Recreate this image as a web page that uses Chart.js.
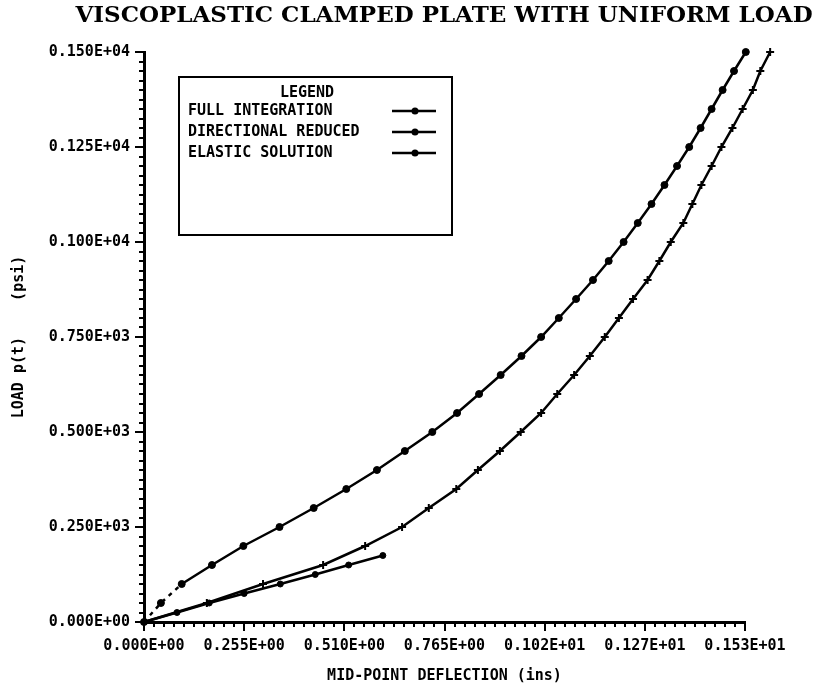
<!DOCTYPE html>
<html>
<head>
<meta charset="utf-8">
<script src="https://cdn.jsdelivr.net/npm/chart.js@4.4.1/dist/chart.umd.min.js"></script>
<style>
  html, body { margin: 0; padding: 0; background: #fff; }
</style>
</head>
<body>
<canvas id="plateChart" width="813" height="690"></canvas>
<script>
const chartTitle = "VISCOPLASTIC CLAMPED PLATE WITH UNIFORM LOAD";
const xTitle = "MID-POINT DEFLECTION (ins)";
const yTitle = "LOAD p(t)    (psi)";
const seriesNames = ["FULL INTEGRATION", "DIRECTIONAL REDUCED", "ELASTIC SOLUTION"];
const xTicks = [0, 0.255, 0.51, 0.765, 1.02, 1.275, 1.53];
const yTicks = [0, 250, 500, 750, 1000, 1250, 1500];

// load levels (psi) used by both viscoplastic runs
const loadSteps = [0, 50, 100, 150, 200, 250, 300, 350, 400, 450, 500, 550, 600, 650, 700, 750,
  800, 850, 900, 950, 1000, 1050, 1100, 1150, 1200, 1250, 1300, 1350, 1400, 1450, 1500];
// mid-point deflection (ins)
const fullDefl = [0, 0.043, 0.096, 0.173, 0.253, 0.345, 0.432, 0.515, 0.593, 0.664, 0.734, 0.797,
  0.853, 0.908, 0.961, 1.011, 1.056, 1.100, 1.143, 1.183, 1.221, 1.257, 1.292, 1.325, 1.357, 1.388,
  1.417, 1.445, 1.473, 1.502, 1.532];
const reducedDefl = [0, 0.160, 0.303, 0.456, 0.563, 0.657, 0.725, 0.795, 0.850, 0.906, 0.959, 1.011,
  1.052, 1.095, 1.135, 1.173, 1.209, 1.245, 1.282, 1.312, 1.341, 1.373, 1.396, 1.419, 1.445, 1.470,
  1.498, 1.524, 1.550, 1.569, 1.594];
const elasticLoad = [0, 25, 50, 75, 100, 125, 150, 175];
const elasticDefl = [0, 0.084, 0.166, 0.255, 0.347, 0.436, 0.521, 0.608];

const tickFont = { family: "'DejaVu Sans Mono', 'Liberation Mono', monospace", size: 15, weight: "bold" };

// plotter style numbers, e.g. 0.255E+00
function fortranE(v) {
  if (v === 0) return "0.000E+00";
  const e = Math.floor(Math.log10(Math.abs(v))) + 1;
  const m = Math.floor((v / Math.pow(10, e)) * 1000 + 1e-6) / 1000;
  return m.toFixed(3) + "E" + (e < 0 ? "-" : "+") + String(Math.abs(e)).padStart(2, "0");
}

const toPoints = (xs, ys) => xs.map((x, i) => ({ x: x, y: ys[i] }));

const plateDecor = {
  id: "plateDecor",
  afterDatasetsDraw(chart) {
    // markers past the end of the x axis
    const c = chart.ctx;
    const area = chart.chartArea;
    chart.data.datasets.forEach((ds, i) => {
      chart.getDatasetMeta(i).data.forEach(el => {
        if (el.x > area.right + 2) el.draw(c);
      });
    });
  },
  afterDraw(chart) {
    const c = chart.ctx;
    const area = chart.chartArea;
    const xs = chart.scales.x;
    const ys = chart.scales.y;
    c.save();
    c.strokeStyle = "#000";
    c.fillStyle = "#000";

    // minor ticks
    c.lineWidth = 2;
    c.beginPath();
    for (let i = 0; i <= 60; i++) {
      if (i % 10 === 0) continue;
      const px = Math.round(xs.getPixelForValue(i * 0.0255));
      c.moveTo(px, area.bottom);
      c.lineTo(px, area.bottom + 5);
      const py = Math.round(ys.getPixelForValue(i * 25));
      c.moveTo(area.left, py);
      c.lineTo(area.left - 5, py);
    }
    c.stroke();

    // title
    c.font = "bold 23px 'DejaVu Serif', serif";
    c.textAlign = "center";
    c.textBaseline = "middle";
    c.fillText(chartTitle, 444, 16);

    // legend box
    const lx = area.left + 35;
    const ly = area.top + 25;
    c.lineWidth = 2;
    c.strokeRect(lx, ly, 273, 158);
    c.font = "bold 15px 'DejaVu Sans Mono', monospace";
    c.fillText("LEGEND", lx + 128, ly + 16);
    c.textAlign = "left";
    seriesNames.forEach((name, i) => {
      const ry = ly + 34 + i * 21;
      c.fillText(name, lx + 9, ry);
      c.lineWidth = 2.5;
      c.beginPath();
      c.moveTo(lx + 213, ry);
      c.lineTo(lx + 257, ry);
      c.stroke();
      c.beginPath();
      c.arc(lx + 236, ry, 3.5, 0, Math.PI * 2);
      c.fill();
    });
    c.restore();
  }
};

const lineStyle = {
  borderColor: "#000",
  backgroundColor: "#000",
  pointBackgroundColor: "#000",
  pointBorderColor: "#000",
  borderWidth: 2.5,
  tension: 0,
  clip: false,
  fill: false,
};

const ctx = document.getElementById("plateChart").getContext("2d");
const data = {
  datasets: [
    {
      ...lineStyle,
      label: seriesNames[0],
      data: toPoints(fullDefl, loadSteps),
      pointStyle: "circle",
      pointRadius: 3.5,
      pointBorderWidth: 1,
      segment: { borderDash: s => (s.p0DataIndex < 2 ? [4, 5] : undefined) },
    },
    {
      ...lineStyle,
      label: seriesNames[1],
      data: toPoints(reducedDefl, loadSteps),
      pointStyle: "cross",
      pointRadius: 4,
      pointBorderWidth: 2,
    },
    {
      ...lineStyle,
      label: seriesNames[2],
      data: toPoints(elasticDefl, elasticLoad),
      pointStyle: "circle",
      pointRadius: 3,
      pointBorderWidth: 1,
    },
  ],
};

const config = {
  type: "line",
  data: data,
  options: {
    responsive: false,
    animation: false,
    layout: { padding: { top: 52, right: 68, left: 0, bottom: 0 } },
    plugins: {
      legend: { display: false },
      tooltip: { enabled: false },
    },
    scales: {
      x: {
        type: "linear",
        bounds: "data",
        afterDataLimits: s => { s.min = xTicks[0]; s.max = xTicks[xTicks.length - 1]; },
        afterBuildTicks: s => { s.ticks = xTicks.map(v => ({ value: v })); },
        afterFit: s => { s.height = 68; },
        ticks: { callback: v => fortranE(v), font: tickFont, color: "#000", padding: 6, maxRotation: 0, autoSkip: false },
        grid: { drawOnChartArea: false, color: "#000", lineWidth: 2, tickLength: 9 },
        border: { color: "#000", width: 3 },
        title: { display: true, text: xTitle, font: tickFont, color: "#000", padding: { top: 0, bottom: 5 } },
      },
      y: {
        type: "linear",
        bounds: "data",
        afterDataLimits: s => { s.min = yTicks[0]; s.max = yTicks[yTicks.length - 1]; },
        afterBuildTicks: s => { s.ticks = yTicks.map(v => ({ value: v })); },
        afterFit: s => { s.width = 144; },
        ticks: { callback: v => fortranE(v), font: tickFont, color: "#000", padding: 5, autoSkip: false },
        grid: { drawOnChartArea: false, color: "#000", lineWidth: 2, tickLength: 9 },
        border: { color: "#000", width: 3 },
        title: { display: true, text: yTitle, font: tickFont, color: "#000", padding: { top: 10, bottom: 0 } },
      },
    },
  },
  plugins: [plateDecor],
};
const plateChart = new Chart(ctx, config);
</script>
</body>
</html>
